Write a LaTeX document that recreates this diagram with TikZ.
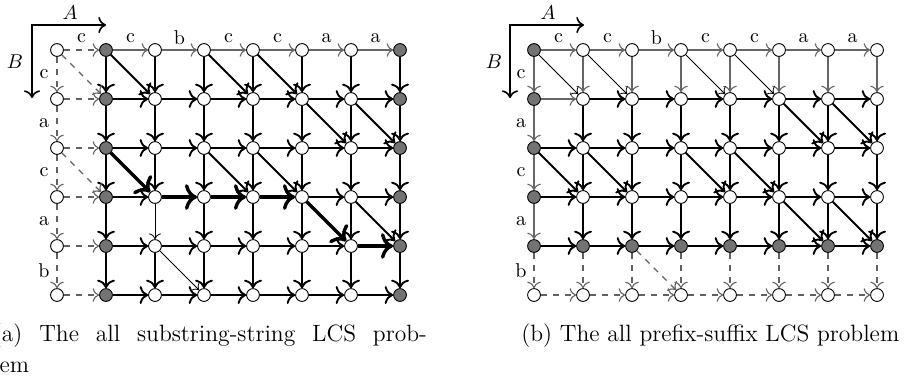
\documentclass[tikz,border=0pt]{standalone}
\usetikzlibrary{arrows.meta}
\begin{document}
\begin{tikzpicture}[x=0.5pt,y=-0.5pt,
  >={To[scale=1.15]},
  wn/.style={circle,draw,line width=0.45pt,fill=white,inner sep=0pt,minimum size=6.4pt},
  gn/.style={wn,fill=black!55},
  med/.style={->,line width=0.95pt},
  thk/.style={->,line width=1.7pt},
  thn/.style={->,line width=0.4pt},
  gry/.style={->,line width=0.55pt,draw=black!60},
  dsh/.style={->,line width=0.55pt,draw=black!62,dash pattern=on 3pt off 3pt},
  lab/.style={font=\fontsize{10}{12}\selectfont,inner sep=0pt},
  axl/.style={font=\fontsize{10}{12}\selectfont,inner sep=0pt},
  captxt/.style={font=\fontsize{11.8}{14}\selectfont,inner sep=0pt,anchor=base west},
  axarrow/.style={<->,line width=0.8pt,line join=miter}]
\useasboundingbox (0,0) rectangle (908,381);
% ---------- (a) nodes
\foreach \i in {0,...,5}{
  \foreach \j in {0,...,7}{
    \pgfmathtruncatemacro\xx{57+49*\j}
    \pgfmathtruncatemacro\yy{50+49*\i}
    \def\ns{wn}
    \ifnum\j=1 \def\ns{gn}\fi
    \ifnum\j=7 \def\ns{gn}\fi
    \node[\ns] (a-\i-\j) at (\xx,\yy) {};
  }
}
% ---------- (b) nodes
\foreach \i in {0,...,5}{
  \foreach \j in {0,...,7}{
    \pgfmathtruncatemacro\xx{534+49*\j}
    \pgfmathtruncatemacro\yy{50+49*\i}
    \def\ns{wn}
    \ifnum\j=0 \def\ns{gn}\fi
    \ifnum\i=4 \def\ns{gn}\fi
    \ifnum\i=5 \def\ns{wn}\fi
    \node[\ns] (b-\i-\j) at (\xx,\yy) {};
  }
}
% ---------- (a) horizontal edges
\foreach \i in {0,...,5}{
  \foreach \j in {0,...,6}{
    \pgfmathtruncatemacro\k{\j+1}
    \pgfmathtruncatemacro\c{10*\i+\j}
    \def\st{med}
    \ifnum\i=0 \def\st{gry}\fi
    \ifnum\c=32 \def\st{thk}\fi
    \ifnum\c=33 \def\st{thk}\fi
    \ifnum\c=34 \def\st{thk}\fi
    \ifnum\c=46 \def\st{thk}\fi
    \ifnum\j=0 \def\st{dsh}\fi
    \draw[\st] (a-\i-\j) -- (a-\i-\k);
  }
}
% ---------- (a) vertical edges
\foreach \i in {0,...,4}{
  \foreach \j in {0,...,7}{
    \pgfmathtruncatemacro\k{\i+1}
    \pgfmathtruncatemacro\c{10*\i+\j}
    \def\st{med}
    \ifnum\c=32 \def\st{thn}\fi
    \ifnum\j=0 \def\st{dsh}\fi
    \draw[\st] (a-\i-\j) -- (a-\k-\j);
  }
}
% ---------- (a) diagonal edges
\foreach \i/\j/\st in {0/0/dsh,2/0/dsh,0/1/med,0/3/med,0/4/med,1/5/med,1/6/med,
                       2/3/med,2/4/med,3/6/med,2/1/thk,3/5/thk,4/2/thn}{
  \pgfmathtruncatemacro\k{\i+1}
  \pgfmathtruncatemacro\l{\j+1}
  \draw[\st] (a-\i-\j) -- (a-\k-\l);
}
% ---------- (b) horizontal edges
\foreach \i in {0,...,5}{
  \foreach \j in {0,...,6}{
    \pgfmathtruncatemacro\k{\j+1}
    \pgfmathtruncatemacro\c{10*\i+\j}
    \def\st{med}
    \ifnum\i=0 \def\st{gry}\fi
    \ifnum\c=10 \def\st{gry}\fi
    \ifnum\i=5 \def\st{dsh}\fi
    \draw[\st] (b-\i-\j) -- (b-\i-\k);
  }
}
% ---------- (b) vertical edges
\foreach \i in {0,...,4}{
  \foreach \j in {0,...,7}{
    \pgfmathtruncatemacro\k{\i+1}
    \def\st{med}
    \ifnum\i=0 \def\st{gry}\fi
    \ifnum\j=0 \def\st{gry}\fi
    \ifnum\i=4 \def\st{dsh}\fi
    \draw[\st] (b-\i-\j) -- (b-\k-\j);
  }
}
% ---------- (b) diagonal edges
\foreach \i/\j/\st in {0/0/thn,0/1/thn,0/3/thn,0/4/thn,1/5/med,1/6/med,2/0/med,2/1/med,
                       2/3/med,2/4/med,3/5/med,3/6/med,4/2/dsh}{
  \pgfmathtruncatemacro\k{\i+1}
  \pgfmathtruncatemacro\l{\j+1}
  \draw[\st] (b-\i-\j) -- (b-\k-\l);
}
% ---------- labels
\foreach \t [count=\n from 0] in {c,c,b,c,c,a,a}{
  \node[lab] (ta\n) at (81.5+49*\n,38) {\t};
  \node[lab] (tb\n) at (558.5+49*\n,38) {\t};
}
\foreach \t [count=\n from 0] in {c,a,c,a,b}{
  \node[lab] (sa\n) at (44,74.5+49*\n) {\t};
  \node[lab] (sb\n) at (521,74.5+49*\n) {\t};
}
% ---------- axes
\coordinate (acn) at (32,25); \coordinate (aA) at (106,25); \coordinate (aB) at (32,98);
\draw[axarrow] (aB) -- (acn) -- (aA);
\node[axl] (LA) at (70,13) {$A$};
\node[axl] (LB) at (15,62) {$B$};
\coordinate (bcn) at (510,25); \coordinate (bA) at (584,25); \coordinate (bB) at (510,98);
\draw[axarrow] (bB) -- (bcn) -- (bA);
\node[axl] (LA2) at (548,13) {$A$};
\node[axl] (LB2) at (494,62) {$B$};
% ---------- captions
\node[captxt] (capa) at (-7.5,341) {\makebox[217pt][s]{(a) The all substring-string LCS prob-}};
\node[captxt] (capa2) at (-0.9,372) {em};
\node[captxt] (capb) at (521,341) {(b) The all prefix-suffix LCS problem};
\end{tikzpicture}
\end{document}
